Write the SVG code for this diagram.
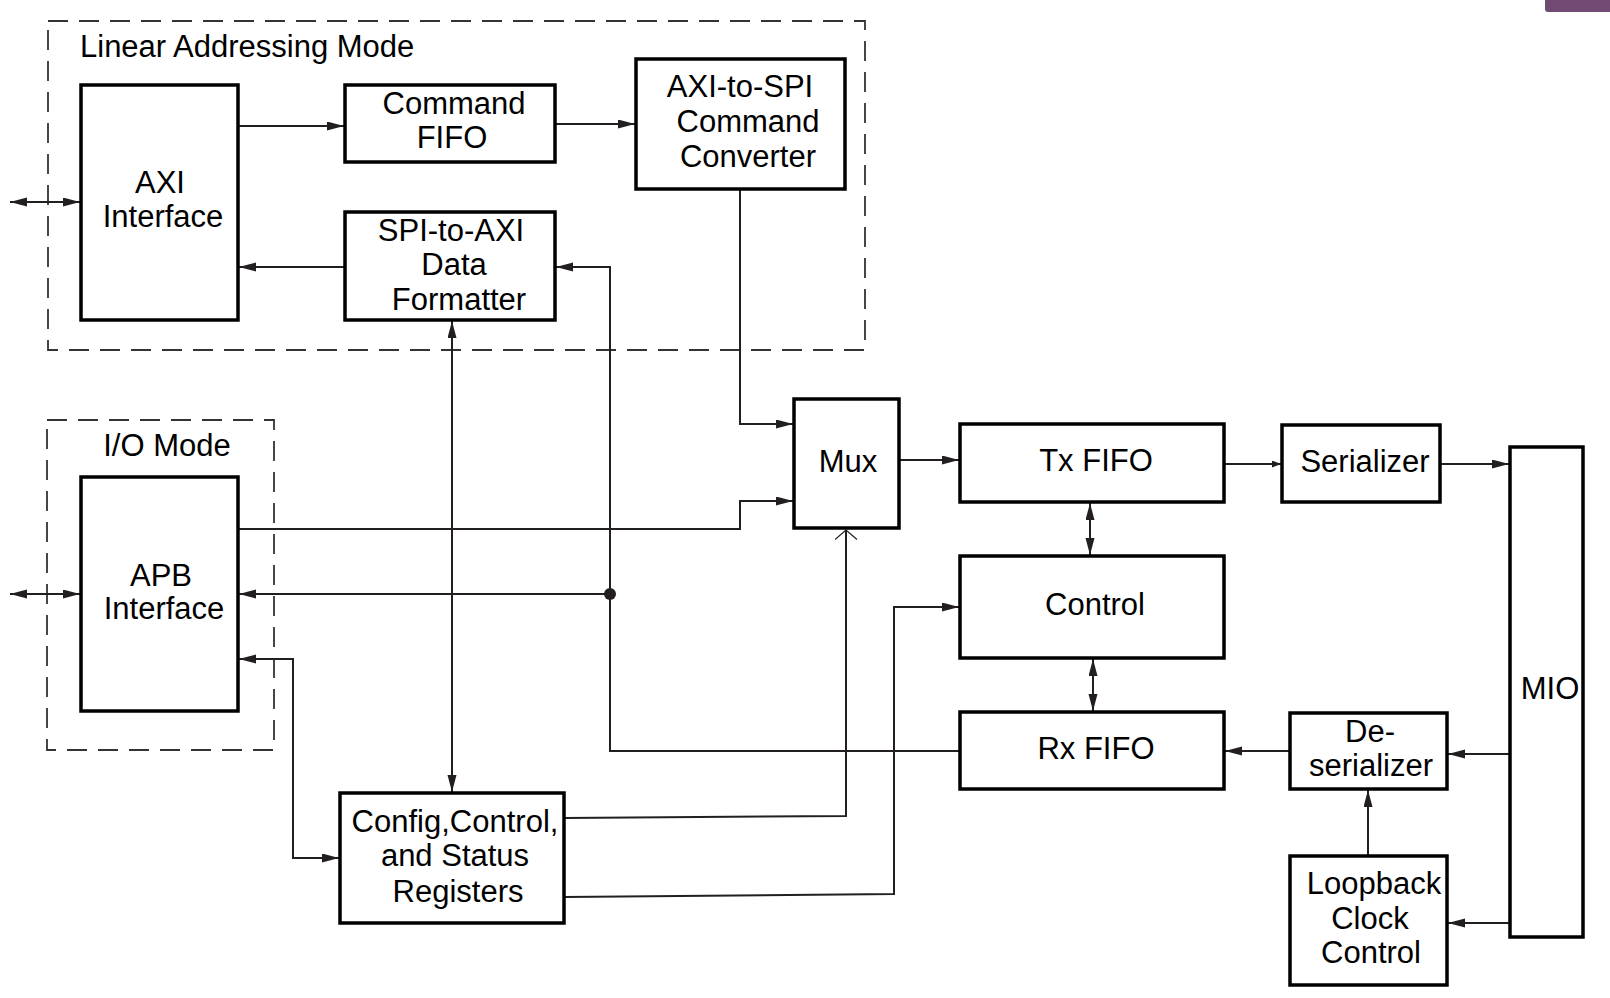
<svg xmlns="http://www.w3.org/2000/svg" width="1610" height="998" viewBox="0 0 1610 998">
<style>
.box{fill:#fff;stroke:#000;stroke-width:3.5}
.dash{fill:none;stroke:#333;stroke-width:1.8;stroke-dasharray:20 11}
.ln{fill:none;stroke:#231f20;stroke-width:2}
.t{font-family:"Liberation Sans",Arial,Helvetica,sans-serif;font-size:31px;fill:#000;text-anchor:middle}
</style>
<defs>
<marker id="ah" markerUnits="userSpaceOnUse" markerWidth="18" markerHeight="10" refX="17" refY="4.5" orient="auto-start-reverse" viewBox="0 0 18 10">
<path d="M0,0 L17,4.5 L0,9 z" fill="#231f20"/>
</marker>
<marker id="ahs" markerUnits="userSpaceOnUse" markerWidth="10" markerHeight="8" refX="9" refY="3.5" orient="auto" viewBox="0 0 10 8">
<path d="M0,0 L9,3.5 L0,7 z" fill="#231f20"/>
</marker>
<marker id="aho" markerUnits="userSpaceOnUse" markerWidth="12" markerHeight="24" refX="10" refY="11" orient="auto" viewBox="0 0 12 24">
<path d="M0.5,0 L10,11 L0.5,22" fill="none" stroke="#231f20" stroke-width="1.2"/>
</marker>
</defs>
<rect width="1610" height="998" fill="#fff"/>
<rect x="1545" y="-6" width="70" height="18" rx="3" fill="#704a73"/>

<g id="linear-mode">
<rect class="dash" x="48" y="21" width="817" height="329"/>
<text class="t" x="80" y="57" style="text-anchor:start">Linear Addressing Mode</text>
</g>
<g id="io-mode">
<rect class="dash" x="47" y="420" width="227" height="330"/>
<text class="t" x="167" y="456">I/O Mode</text>
</g>

<g id="connectors">
<path class="ln" d="M239,126 H344" marker-end="url(#ah)"/>
<path class="ln" d="M556,124 H635" marker-end="url(#ah)"/>
<path class="ln" d="M344,267 H239" marker-end="url(#ah)"/>
<path class="ln" d="M959,751 H610 V267 H556" marker-end="url(#ah)"/>
<path class="ln" d="M740,190 V424 H793" marker-end="url(#ah)"/>
<path class="ln" d="M239,529 H740 V501 H793" marker-end="url(#ah)"/>
<path class="ln" d="M610,594 H239" marker-end="url(#ah)"/>
<circle cx="610" cy="594" r="6" fill="#231f20"/>
<path class="ln" d="M10,594 H80" marker-start="url(#ah)" marker-end="url(#ah)"/>
<path class="ln" d="M10,202 H80" marker-start="url(#ah)" marker-end="url(#ah)"/>
<path class="ln" d="M239,659 H293 V858 H339" marker-start="url(#ah)" marker-end="url(#ah)"/>
<path class="ln" d="M452,321 V792" marker-start="url(#ah)" marker-end="url(#ah)"/>
<path class="ln" d="M565,818 L846,816 V530" marker-end="url(#aho)"/>
<path class="ln" d="M565,897 L894,894 V607 H959" marker-end="url(#ah)"/>
<path class="ln" d="M900,460 H959" marker-end="url(#ah)"/>
<path class="ln" d="M1090,503 V555" marker-start="url(#ah)" marker-end="url(#ah)"/>
<path class="ln" d="M1093,659 V711" marker-start="url(#ah)" marker-end="url(#ah)"/>
<path class="ln" d="M1225,464 H1281" marker-end="url(#ahs)"/>
<path class="ln" d="M1441,464 H1509" marker-end="url(#ah)"/>
<path class="ln" d="M1509,754 H1448" marker-end="url(#ah)"/>
<path class="ln" d="M1289,751 H1225" marker-end="url(#ah)"/>
<path class="ln" d="M1368,855 V790" marker-end="url(#ah)"/>
<path class="ln" d="M1509,923 H1448" marker-end="url(#ah)"/>
</g>

<g id="axi-interface">
<rect class="box" x="81" y="85" width="157" height="235"/>
<text class="t" x="160" y="193">AXI</text>
<text class="t" x="163" y="227">Interface</text>
</g>
<g id="command-fifo">
<rect class="box" x="345" y="85" width="210" height="77"/>
<text class="t" x="454" y="114">Command</text>
<text class="t" x="452" y="148">FIFO</text>
</g>
<g id="axi-to-spi">
<rect class="box" x="636" y="59" width="209" height="130"/>
<text class="t" x="740" y="97">AXI-to-SPI</text>
<text class="t" x="748" y="132">Command</text>
<text class="t" x="748" y="167">Converter</text>
</g>
<g id="spi-to-axi">
<rect class="box" x="345" y="212" width="210" height="108"/>
<text class="t" x="451" y="241">SPI-to-AXI</text>
<text class="t" x="454" y="275">Data</text>
<text class="t" x="459" y="310">Formatter</text>
</g>
<g id="apb-interface">
<rect class="box" x="81" y="477" width="157" height="234"/>
<text class="t" x="161" y="586">APB</text>
<text class="t" x="164" y="619">Interface</text>
</g>
<g id="config-registers">
<rect class="box" x="340" y="793" width="224" height="130"/>
<text class="t" x="455" y="832">Config,Control,</text>
<text class="t" x="455" y="866">and Status</text>
<text class="t" x="458" y="902">Registers</text>
</g>
<g id="mux">
<rect class="box" x="794" y="399" width="105" height="129"/>
<text class="t" x="848" y="472">Mux</text>
</g>
<g id="tx-fifo">
<rect class="box" x="960" y="424" width="264" height="78"/>
<text class="t" x="1096" y="471">Tx FIFO</text>
</g>
<g id="control">
<rect class="box" x="960" y="556" width="264" height="102"/>
<text class="t" x="1095" y="615">Control</text>
</g>
<g id="rx-fifo">
<rect class="box" x="960" y="712" width="264" height="77"/>
<text class="t" x="1096" y="759">Rx FIFO</text>
</g>
<g id="serializer">
<rect class="box" x="1282" y="425" width="158" height="77"/>
<text class="t" x="1365" y="472">Serializer</text>
</g>
<g id="mio">
<rect class="box" x="1510" y="447" width="73" height="490"/>
<text class="t" x="1550" y="699">MIO</text>
</g>
<g id="deserializer">
<rect class="box" x="1290" y="713" width="157" height="76"/>
<text class="t" x="1370" y="742">De-</text>
<text class="t" x="1371" y="776">serializer</text>
</g>
<g id="loopback-clock-control">
<rect class="box" x="1290" y="856" width="157" height="129"/>
<text class="t" x="1374" y="894">Loopback</text>
<text class="t" x="1370" y="929">Clock</text>
<text class="t" x="1371" y="963">Control</text>
</g>
</svg>
